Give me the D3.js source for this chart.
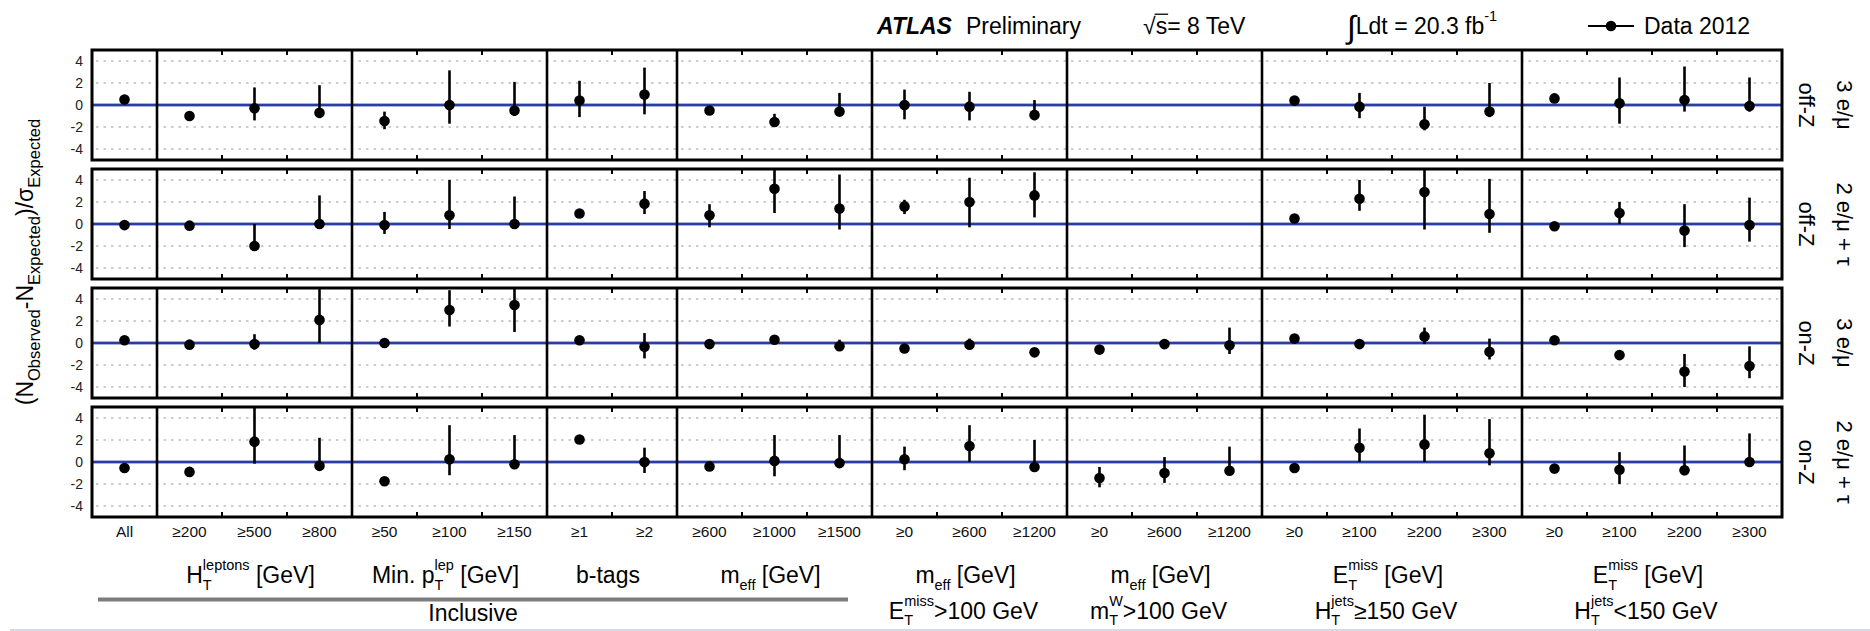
<!DOCTYPE html>
<html>
<head>
<meta charset="utf-8">
<script src="https://cdn.jsdelivr.net/npm/d3@7"></script>
<style>
  html, body { margin: 0; padding: 0; background: #fff; }
  svg text { font-family: "Liberation Sans", Arial, Helvetica, sans-serif; white-space: pre; }
</style>
</head>
<body>
<svg id="chart" width="1870" height="631"></svg>
<script>
// Bin labels along the x axis (26 signal-region bins)
const binLabels = ["All","≥200","≥500","≥800","≥50","≥100","≥150","≥1","≥2",
  "≥600","≥1000","≥1500","≥0","≥600","≥1200","≥0","≥600","≥1200",
  "≥0","≥100","≥200","≥300","≥0","≥100","≥200","≥300"];
// Number of bins in each variable group
const groupSizes = [1, 3, 3, 2, 3, 3, 3, 4, 4];
const yTicks = [-4, -2, 0, 2, 4];
const yGrid = [-4, -2, 2, 4];

// Channel names per row (first line, second line)
const channelLine1 = ["3 e/μ", "2 e/μ + τ", "3 e/μ", "2 e/μ + τ"];
const channelLine2 = ["off-Z", "off-Z", "on-Z", "on-Z"];

// Significance (N_obs - N_exp)/sigma_exp and error bar ends; null = no entry
const val1 = [0.5, -1.0, -0.3, -0.7, -1.45, 0.0, -0.5, 0.4, 0.95, -0.5, -1.55, -0.6, 0.0, -0.15, -0.9, null, null, null, 0.4, -0.15, -1.75, -0.6, 0.6, 0.15, 0.45, -0.1];
const hi1  = [0.8, -0.7, 1.6, 1.8, -0.6, 3.15, 2.1, 2.2, 3.4, -0.2, -0.8, 1.1, 1.4, 1.2, 0.45, null, null, null, 0.7, 1.1, -0.15, 2.0, 0.85, 2.5, 3.5, 2.5];
const lo1  = [0.2, -1.3, -1.4, -1.2, -2.2, -1.7, -1.0, -1.1, -0.85, -0.8, -2.0, -0.9, -1.3, -1.4, -1.4, null, null, null, 0.1, -1.2, -2.3, -1.1, 0.35, -1.7, -0.6, -0.6];

const val2 = [-0.1, -0.15, -2.0, 0.0, -0.1, 0.8, 0.0, 0.95, 1.85, 0.8, 3.2, 1.4, 1.6, 2.0, 2.6, null, null, null, 0.5, 2.3, 2.9, 0.9, -0.2, 1.0, -0.6, -0.1];
const hi2  = [0.2, 0.15, 0.0, 2.6, 1.1, 4.0, 2.5, 1.2, 3.0, 1.8, 5.0, 4.5, 2.2, 4.2, 4.7, null, null, null, 0.75, 4.0, 5.2, 4.1, 0.1, 2.0, 1.8, 2.4];
const lo2  = [-0.4, -0.45, -2.3, -0.3, -0.9, -0.45, -0.45, 0.65, 0.9, -0.3, 1.0, -0.5, 0.9, -0.3, 0.6, null, null, null, 0.25, 1.2, -0.5, -0.8, -0.5, 0.0, -2.1, -1.6];

const val3 = [0.25, -0.15, -0.1, 2.1, 0.0, 3.0, 3.45, 0.25, -0.35, -0.1, 0.3, -0.3, -0.5, -0.15, -0.85, -0.6, -0.1, -0.2, 0.4, -0.1, 0.6, -0.8, 0.25, -1.1, -2.6, -2.1];
const hi3  = [0.5, 0.15, 0.8, 4.9, 0.3, 4.8, 5.0, 0.55, 0.9, 0.2, 0.6, 0.3, -0.2, 0.4, -0.5, -0.3, 0.3, 1.4, 0.7, 0.2, 1.4, 0.4, 0.55, -0.8, -1.0, -0.3];
const lo3  = [0.0, -0.45, -0.6, 0.0, -0.3, 1.5, 1.0, -0.05, -1.4, -0.4, 0.0, -0.6, -0.8, -0.45, -1.15, -0.9, -0.4, -1.0, 0.1, -0.4, -0.1, -1.5, -0.05, -1.4, -4.0, -3.2];

const val4 = [-0.55, -0.9, 1.85, -0.35, -1.75, 0.25, -0.2, 2.05, 0.0, -0.4, 0.1, -0.1, 0.25, 1.45, -0.45, -1.45, -1.0, -0.8, -0.55, 1.3, 1.6, 0.8, -0.6, -0.7, -0.75, 0.0];
const hi4  = [-0.25, -0.6, 5.1, 2.2, -1.45, 3.35, 2.45, 2.35, 1.3, -0.1, 2.45, 2.45, 1.4, 3.35, 2.0, -0.45, 0.45, 1.4, -0.25, 3.05, 4.3, 3.9, -0.3, 0.9, 1.5, 2.6];
const lo4  = [-0.85, -1.2, -0.15, -0.7, -2.05, -1.2, -0.45, 1.75, -1.0, -0.7, -1.3, -0.3, -0.75, 0.0, -0.75, -2.3, -1.9, -1.2, -0.85, 0.0, 0.0, -0.3, -0.9, -2.0, -1.2, -0.3];

const rowValues = [val1, val2, val3, val4];
const rowHigh = [hi1, hi2, hi3, hi4];
const rowLow = [lo1, lo2, lo3, lo4];

// Group captions: first line and second line, as rich-text parts
const groupCaption1 = [
  [],
  [{t:"H"},{t:"T",s:"sub"},{t:"leptons",s:"sup",stack:true},{t:" [GeV]"}],
  [{t:"Min. p"},{t:"T",s:"sub"},{t:"lep",s:"sup",stack:true},{t:" [GeV]"}],
  [{t:"b-tags"}],
  [{t:"m"},{t:"eff",s:"sub"},{t:" [GeV]"}],
  [{t:"m"},{t:"eff",s:"sub"},{t:" [GeV]"}],
  [{t:"m"},{t:"eff",s:"sub"},{t:" [GeV]"}],
  [{t:"E"},{t:"T",s:"sub"},{t:"miss",s:"sup",stack:true},{t:" [GeV]"}],
  [{t:"E"},{t:"T",s:"sub"},{t:"miss",s:"sup",stack:true},{t:" [GeV]"}]
];
const groupCaption2 = [
  null, null, null, null, null,
  [{t:"E"},{t:"T",s:"sub"},{t:"miss",s:"sup",stack:true},{t:">100 GeV"}],
  [{t:"m"},{t:"T",s:"sub"},{t:"W",s:"sup",stack:true},{t:">100 GeV"}],
  [{t:"H"},{t:"T",s:"sub"},{t:"jets",s:"sup",stack:true},{t:"≥150 GeV"}],
  [{t:"H"},{t:"T",s:"sub"},{t:"jets",s:"sup",stack:true},{t:"<150 GeV"}]
];
const inclusiveLabel = "Inclusive";
const inclusiveGroups = [0, 4]; // groups spanned by the "Inclusive" bar

// ---------------------------------------------------------------------------
const svg = d3.select("#chart");
const frameLeft = 92, frameRight = 1782;
const panelTops = [50, 169, 288, 407];
const panelH = 110;

const x = d3.scaleBand().domain(d3.range(binLabels.length)).range([frameLeft, frameRight]).padding(0);
const bw = x.bandwidth();

// cumulative group edges (bin index)
const groupStart = [];
let acc = 0;
groupSizes.forEach(n => { groupStart.push(acc); acc += n; });
const groupCenter = g => x(groupStart[g]) + groupSizes[g] * bw / 2;

// rich text: normal, subscript and superscript runs measured and placed
function rich(parent, parts, size, anchor, opt) {
  const o = Object.assign({ subScale: 0.63, subDy: 0.3, supDy: -0.55 }, opt || {});
  const g = parent.append("g");
  let cx = 0, lastStart = 0;
  parts.forEach(p => {
    const kind = p.s || "n";
    const fs = kind === "n" ? size : size * o.subScale;
    const dy = kind === "sub" ? size * o.subDy : kind === "sup" ? size * o.supDy : 0;
    const t = g.append("text").attr("font-size", fs).attr("y", dy).text(p.t);
    if (p.fs) t.attr("font-size", p.fs).attr("y", p.dy || 0);
    const w = t.node().getComputedTextLength();
    const x0 = p.stack ? lastStart : cx;
    t.attr("x", x0);
    if (p.over) {
      g.append("line").attr("x1", x0 - 1).attr("x2", x0 + w + 1)
        .attr("y1", -size * 0.86).attr("y2", -size * 0.86)
        .attr("stroke", "#000").attr("stroke-width", 1.3);
    }
    if (p.stack) cx = Math.max(cx, x0 + w);
    else { lastStart = x0; cx = x0 + w; }
  });
  const shift = anchor === "middle" ? -cx / 2 : anchor === "end" ? -cx : 0;
  g.selectAll("text").attr("x", function () { return +d3.select(this).attr("x") + shift; });
  g.selectAll("line").each(function () {
    const l = d3.select(this);
    l.attr("x1", +l.attr("x1") + shift).attr("x2", +l.attr("x2") + shift);
  });
  return g;
}

// ---------------------------------------------------------------------------
// Panels
panelTops.forEach((top, r) => {
  const y = d3.scaleLinear().domain([-5, 5]).range([top + panelH, top]);
  const g = svg.append("g");
  const clipId = "clip" + r;
  g.append("clipPath").attr("id", clipId).append("rect")
    .attr("x", frameLeft).attr("y", top).attr("width", frameRight - frameLeft).attr("height", panelH);

  // dotted grid
  g.selectAll("line.grid").data(yGrid).join("line")
    .attr("x1", frameLeft + 4).attr("x2", frameRight - 4)
    .attr("y1", d => y(d)).attr("y2", d => y(d))
    .attr("stroke", "#bdbdbd").attr("stroke-width", 1.6)
    .attr("stroke-dasharray", "2.5,5");

  // zero line
  g.append("line").attr("x1", frameLeft).attr("x2", frameRight)
    .attr("y1", y(0)).attr("y2", y(0))
    .attr("stroke", "#aab3dc").attr("stroke-width", 4);
  g.append("line").attr("x1", frameLeft).attr("x2", frameRight)
    .attr("y1", y(0)).attr("y2", y(0))
    .attr("stroke", "#2a3ca6").attr("stroke-width", 1.8);

  // bin-edge ticks (top and bottom, inward)
  const edges = d3.range(1, binLabels.length);
  g.selectAll("line.tt").data(edges).join("line")
    .attr("x1", d => x(d)).attr("x2", d => x(d))
    .attr("y1", top).attr("y2", top + 5)
    .attr("stroke", "#000").attr("stroke-width", 2);
  g.selectAll("line.tb").data(edges).join("line")
    .attr("x1", d => x(d)).attr("x2", d => x(d))
    .attr("y1", top + panelH).attr("y2", top + panelH - 5)
    .attr("stroke", "#000").attr("stroke-width", 2);

  // group dividers
  g.selectAll("line.div").data(groupStart.slice(1)).join("line")
    .attr("x1", d => x(d)).attr("x2", d => x(d))
    .attr("y1", top).attr("y2", top + panelH)
    .attr("stroke", "#000").attr("stroke-width", 2.6);

  // data
  const pts = rowValues[r].map((v, i) => ({ i, v, hi: rowHigh[r][i], lo: rowLow[r][i] }))
    .filter(d => d.v !== null);
  const dg = g.append("g").attr("clip-path", `url(#${clipId})`);
  dg.selectAll("line.err").data(pts).join("line")
    .attr("x1", d => x(d.i) + bw / 2).attr("x2", d => x(d.i) + bw / 2)
    .attr("y1", d => y(d.hi)).attr("y2", d => y(d.lo))
    .attr("stroke", "#000").attr("stroke-width", 2.6);
  dg.selectAll("circle").data(pts).join("circle")
    .attr("cx", d => x(d.i) + bw / 2).attr("cy", d => y(d.v))
    .attr("r", 5.3).attr("fill", "#000");

  // frame
  g.append("rect").attr("x", frameLeft).attr("y", top)
    .attr("width", frameRight - frameLeft).attr("height", panelH)
    .attr("fill", "none").attr("stroke", "#000").attr("stroke-width", 3);

  // y tick labels
  g.selectAll("text.yt").data(yTicks).join("text")
    .attr("x", 83).attr("y", d => y(d) + 5)
    .attr("text-anchor", "end").attr("font-size", 14).attr("fill", "#222")
    .text(d => d);

  // channel labels (rotated)
  const cy = top + panelH / 2;
  g.append("text").attr("transform", `translate(1837,${cy}) rotate(90)`)
    .attr("text-anchor", "middle").attr("font-size", 22).text(channelLine1[r]);
  g.append("text").attr("transform", `translate(1799,${cy}) rotate(90)`)
    .attr("text-anchor", "middle").attr("font-size", 22).text(channelLine2[r]);
});

// x-axis bin labels
svg.append("g").selectAll("text").data(binLabels).join("text")
  .attr("x", (d, i) => x(i) + bw / 2).attr("y", 537)
  .attr("text-anchor", "middle").attr("font-size", 15.5).attr("fill", "#111")
  .text(d => d);

// group captions
groupCaption1.forEach((parts, gi) => {
  if (!parts.length) return;
  const gg = rich(svg, parts, 23, "middle");
  gg.attr("transform", `translate(${groupCenter(gi) - 4},583)`);
});
groupCaption2.forEach((parts, gi) => {
  if (!parts) return;
  const gg = rich(svg, parts, 23, "middle", { subDy: 0.26 });
  gg.attr("transform", `translate(${groupCenter(gi) - 6},619)`);
});

// "Inclusive" bar and caption
const incX1 = x(groupStart[inclusiveGroups[0]]) + 6;
const incX2 = x(groupStart[inclusiveGroups[1]] + groupSizes[inclusiveGroups[1]]) - 24;
svg.append("line").attr("x1", incX1).attr("x2", incX2).attr("y1", 599.5).attr("y2", 599.5)
  .attr("stroke", "#7c7c7c").attr("stroke-width", 4);
svg.append("text").attr("x", (incX1 + incX2) / 2).attr("y", 621)
  .attr("text-anchor", "middle").attr("font-size", 23).text(inclusiveLabel);

// y-axis title
const yt = rich(svg, [
  {t:"(N"},{t:"Observed",s:"sub"},{t:"-N"},{t:"Expected",s:"sub"},{t:")/σ"},{t:"Expected",s:"sub"}
], 23, "middle", { subScale: 0.72, subDy: 0.3 });
yt.attr("transform", "translate(33,262) rotate(-90)");

// header
const hdr = svg.append("g");
hdr.append("text").attr("x", 877).attr("y", 34).attr("font-size", 23)
  .attr("font-weight", "bold").attr("font-style", "italic").text("ATLAS");
hdr.append("text").attr("x", 966).attr("y", 34).attr("font-size", 23).text("Preliminary");
const sq = rich(hdr, [{t:"√"},{t:"s",over:true},{t:"= 8 TeV"}], 23, "start");
sq.attr("transform", "translate(1143,34)");
const lum = rich(hdr, [{t:"∫", fs:32, dy:4},{t:"Ldt = 20.3 fb"},{t:"-1",s:"sup"}], 23, "start");
lum.attr("transform", "translate(1347,34)");

// legend
hdr.append("line").attr("x1", 1588).attr("x2", 1634).attr("y1", 26).attr("y2", 26)
  .attr("stroke", "#000").attr("stroke-width", 2.2);
hdr.append("circle").attr("cx", 1611).attr("cy", 26).attr("r", 5.3).attr("fill", "#000");
hdr.append("text").attr("x", 1644).attr("y", 34).attr("font-size", 23).text("Data 2012");

// thin rule along the bottom edge
svg.append("line").attr("x1", 10).attr("x2", 1870).attr("y1", 630).attr("y2", 630)
  .attr("stroke", "#d5dae6").attr("stroke-width", 2);
</script>
</body>
</html>
